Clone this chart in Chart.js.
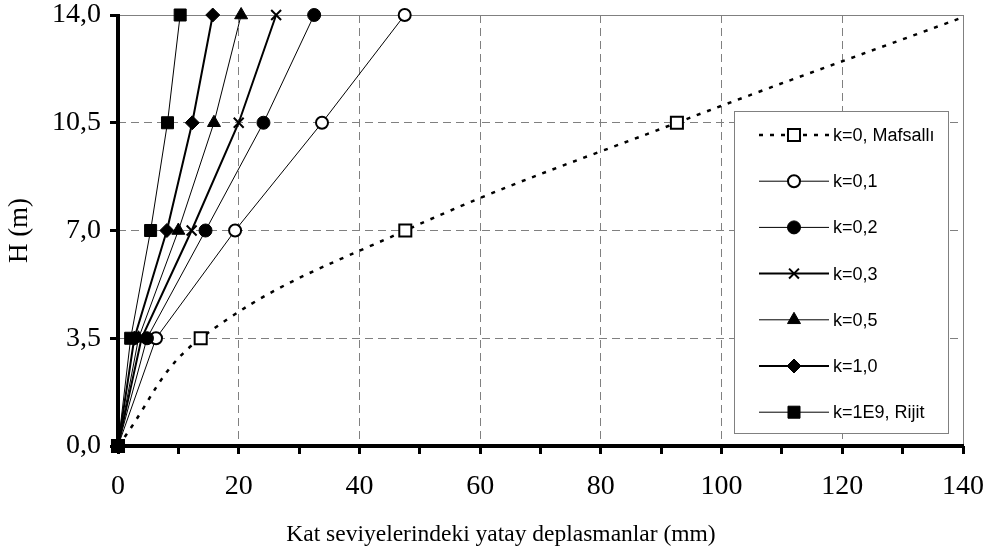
<!DOCTYPE html>
<html>
<head>
<meta charset="utf-8">
<script src="https://cdn.jsdelivr.net/npm/chart.js@4.4.0/dist/chart.umd.min.js"></script>
<style>
    html, body { margin: 0; padding: 0; background: #fff; }
    #kutu { width: 991px; height: 555px; }
</style>
</head>
<body>
<div id="kutu"><canvas id="grafik" width="991" height="555"></canvas></div>
<script>
// Kat seviyeleri (m)
const katSeviyeleri = [0, 3.5, 7, 10.5, 14];

// Yatay deplasmanlar (mm), her k değeri için
const dispMafsalli = [0, 13.7, 47.6, 92.6, 141];
const dispK01 = [0, 6.3, 19.4, 33.8, 47.5];
const dispK02 = [0, 4.8, 14.5, 24.1, 32.5];
const dispK03 = [0, 3.9, 12.2, 20.0, 26.2];
const dispK05 = [0, 3.4, 10.0, 15.9, 20.4];
const dispK10 = [0, 2.7, 8.1, 12.3, 15.7];
const dispRijit = [0, 2.1, 5.4, 8.2, 10.3];

const seriAdlari = ['k=0, Mafsallı', 'k=0,1', 'k=0,2', 'k=0,3', 'k=0,5', 'k=1,0', 'k=1E9, Rijit'];

// Eksen işaretleri
const yTicks = [0, 3.5, 7, 10.5, 14];
const xTicks = [0, 20, 40, 60, 80, 100, 120, 140];
const xAraTicks = [10, 30, 50, 70, 90, 110, 130];

const xBaslik = 'Kat seviyelerindeki yatay deplasmanlar (mm)';
const yBaslik = 'H (m)';

const X_MAX = 140;

// Seri oluşturma
function seri(ad, degerler, stil) {
    return Object.assign({
        label: ad,
        data: degerler.map((x, i) => ({ x: x, y: katSeviyeleri[i] })),
        borderColor: '#000',
        pointBorderColor: '#000',
        pointBackgroundColor: '#000',
        tension: 0,
        clip: false
    }, stil);
}

const datasets = [
    seri(seriAdlari[0], dispMafsalli, {
        borderWidth: 2.5, borderDash: [4, 7], tension: 0.4,
        clip: { left: 10, top: 0, right: 0, bottom: 10 },
        pointStyle: 'rect', pointBackgroundColor: '#fff', pointBorderWidth: 2,
        pointRadius: c => (c.raw && c.raw.x > X_MAX) ? 0 : 8.5
    }),
    seri(seriAdlari[1], dispK01, {
        borderWidth: 1, pointStyle: 'circle', pointRadius: 6,
        pointBackgroundColor: '#fff', pointBorderWidth: 2
    }),
    seri(seriAdlari[2], dispK02, {
        borderWidth: 1, pointStyle: 'circle', pointRadius: 6.5, pointBorderWidth: 1
    }),
    seri(seriAdlari[3], dispK03, {
        borderWidth: 2, pointStyle: 'crossRot', pointRadius: 7, pointBorderWidth: 2
    }),
    seri(seriAdlari[4], dispK05, {
        borderWidth: 1, pointStyle: 'triangle', pointRadius: 7.5, pointBorderWidth: 1
    }),
    seri(seriAdlari[5], dispK10, {
        borderWidth: 2, pointStyle: 'rectRot', pointRadius: 7, pointBorderWidth: 1
    }),
    seri(seriAdlari[6], dispRijit, {
        borderWidth: 1, pointStyle: 'rect', pointRadius: 8.5, pointBorderWidth: 1
    })
];
// Excel gibi: son seri en üstte
datasets.forEach((d, i) => { d.order = datasets.length - i; });

const serifFont = '"Liberation Serif", "Times New Roman", serif';

// Eksen çizgileri ve çerçeve
const eksenCizgileri = {
    id: 'eksenCizgileri',
    beforeDatasetsDraw(chart) {
        const { ctx, chartArea: a } = chart;
        ctx.save();
        ctx.strokeStyle = '#808080';
        ctx.lineWidth = 1;
        ctx.beginPath();
        ctx.moveTo(a.left, a.top + 0.5);
        ctx.lineTo(a.right + 0.5, a.top + 0.5);
        ctx.lineTo(a.right + 0.5, a.bottom);
        ctx.stroke();
        ctx.strokeStyle = '#000';
        ctx.lineWidth = 4;
        ctx.beginPath();
        ctx.moveTo(a.left, a.top - 1);
        ctx.lineTo(a.left, a.bottom);
        ctx.lineTo(a.right + 1, a.bottom);
        ctx.stroke();
        ctx.restore();
    },
    // x ekseni başlığı, tüm şeklin ortasında
    afterDraw(chart) {
        const ctx = chart.ctx;
        ctx.save();
        ctx.fillStyle = '#000';
        ctx.font = '23.5px ' + serifFont;
        ctx.textAlign = 'center';
        ctx.textBaseline = 'middle';
        ctx.fillText(xBaslik, 501, 535);
        ctx.restore();
    }
};

// Sağdaki lejant kutusu
const kutuLejant = {
    id: 'kutuLejant',
    afterDatasetsDraw(chart) {
        const ctx = chart.ctx;
        const bx = 734, by = 111, bw = 214, bh = 322;
        ctx.save();
        ctx.fillStyle = '#fff';
        ctx.fillRect(bx, by, bw, bh);
        ctx.strokeStyle = '#808080';
        ctx.lineWidth = 1;
        ctx.strokeRect(bx + 0.5, by + 0.5, bw, bh);

        chart.data.datasets.forEach((d, i) => {
            const y = 135 + i * 46.2;
            ctx.strokeStyle = '#000';
            ctx.lineWidth = d.borderWidth;
            ctx.setLineDash(d.borderDash || []);
            ctx.beginPath();
            ctx.moveTo(759, y);
            ctx.lineTo(829, y);
            ctx.stroke();
            ctx.setLineDash([]);
            const r = typeof d.pointRadius === 'function' ? 8.5 : d.pointRadius;
            ctx.fillStyle = d.pointBackgroundColor;
            ctx.strokeStyle = '#000';
            ctx.lineWidth = d.pointBorderWidth;
            Chart.helpers.drawPoint(ctx, {
                pointStyle: d.pointStyle, radius: r, rotation: 0, borderWidth: d.pointBorderWidth
            }, 794, y);
            ctx.fillStyle = '#000';
            ctx.font = '18px "Liberation Sans", Arial, sans-serif';
            ctx.textBaseline = 'middle';
            ctx.textAlign = 'left';
            ctx.fillText(d.label, 833, y + 1);
        });
        ctx.restore();
    }
};

new Chart(document.getElementById('grafik').getContext('2d'), {
    type: 'line',
    data: { datasets: datasets },
    options: {
        responsive: false,
        animation: false,
        events: [],
        layout: { padding: { top: 15, right: 28, left: 0, bottom: 0 } },
        plugins: {
            legend: { display: false },
            tooltip: { enabled: false }
        },
        scales: {
            x: {
                type: 'linear',
                min: 0,
                max: X_MAX,
                afterBuildTicks: s => {
                    s.ticks = xTicks.concat(xAraTicks).sort((a, b) => a - b).map(v => ({ value: v }));
                },
                afterFit: s => {
                    s.height = 109;
                    s.paddingLeft = 0;
                    s.paddingRight = 0;
                },
                ticks: {
                    callback: v => xTicks.includes(v) ? String(v) : '',
                    font: { family: serifFont, size: 28 },
                    color: '#000',
                    padding: 16,
                    maxRotation: 0,
                    autoSkip: false
                },
                grid: {
                    color: c => (c.tick && xTicks.includes(c.tick.value)) ? '#808080' : 'rgba(0,0,0,0)',
                    tickColor: '#000',
                    tickWidth: 3,
                    tickLength: 8,
                    lineWidth: 1
                },
                border: { display: false, dash: [8, 5] }
            },
            y: {
                type: 'linear',
                min: 0,
                max: 14,
                afterBuildTicks: s => { s.ticks = yTicks.map(v => ({ value: v })); },
                afterFit: s => {
                    s.width = 118;
                    s.paddingTop = 0;
                    s.paddingBottom = 0;
                },
                ticks: {
                    callback: v => v.toFixed(1).replace('.', ','),
                    font: { family: serifFont, size: 28 },
                    color: '#000',
                    padding: 9
                },
                grid: {
                    color: '#808080',
                    tickColor: '#000',
                    tickWidth: 3,
                    tickLength: 8,
                    lineWidth: 1
                },
                border: { display: false, dash: [8, 5] },
                title: {
                    display: true,
                    text: yBaslik,
                    font: { family: serifFont, size: 27 },
                    color: '#000',
                    padding: { top: 4, bottom: 0 }
                }
            }
        }
    },
    plugins: [eksenCizgileri, kutuLejant]
});
</script>
</body>
</html>
